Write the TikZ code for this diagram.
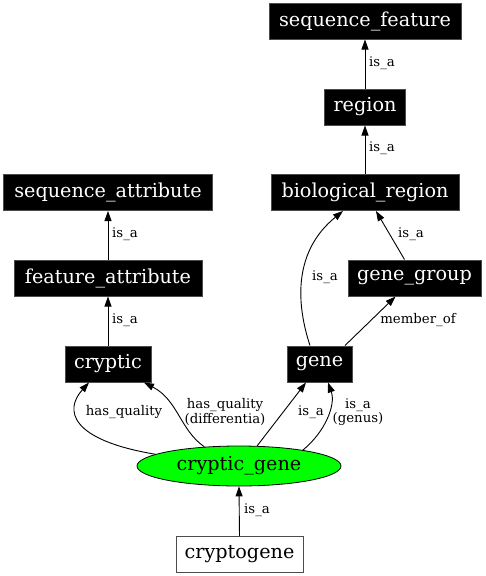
\documentclass[tikz,border=0pt]{standalone}
\usepackage{fontspec}
\setmainfont{DejaVu Serif}
\usetikzlibrary{shapes.geometric,arrows.meta}
\begin{document}
\begin{tikzpicture}[x=1pt,y=-1pt,
  blk/.style={rectangle,fill=black,draw=black!70,line width=1pt,text=white,
    font=\fontsize{19.2}{20}\selectfont,minimum height=36pt,inner xsep=8pt,inner ysep=0pt},
  wht/.style={rectangle,fill=white,draw=black!70,line width=1pt,text=black,
    font=\fontsize{19.2}{20}\selectfont,minimum height=36pt,inner xsep=8pt,inner ysep=0pt},
  ell/.style={ellipse,fill=green,draw=black,line width=0.8pt,
    font=\fontsize{19.2}{20}\selectfont,minimum width=204pt,minimum height=40pt,inner sep=0pt},
  lbl/.style={font=\fontsize{13.3}{14.5}\selectfont,inner sep=0pt,align=center},
  edge/.style={draw=black,line width=0.9pt,-{Triangle[length=10pt,width=7pt]}}]
\useasboundingbox (0,0) rectangle (485,576);
% nodes
\node[blk,minimum width=192pt] (sf) at (365,21) {sequence\_feature};
\node[blk,minimum width=81pt] (reg) at (365,107) {region};
\node[blk,minimum width=188pt] (bio) at (365,192.5) {biological\_region};
\node[blk,minimum width=209pt] (sa) at (108,192.5) {sequence\_attribute};
\node[blk,minimum width=188pt] (fa) at (108,278) {feature\_attribute};
\node[blk,minimum width=133pt] (gg) at (414.5,278) {gene\_group};
\node[blk,minimum width=86pt] (cr) at (108,364) {cryptic};
\node[blk,minimum width=65pt] (gene) at (319.5,364) {gene};
\node[ell] (cg) at (239,466) {cryptic\_gene};
\node[wht,minimum width=127pt] (cgn) at (239.5,554.5) {cryptogene};
% edges
\draw[edge] (reg.north) -- (sf.south);
\draw[edge] (bio.north) -- (reg.south);
\draw[edge] (fa.north) -- (sa.south);
\draw[edge] (cr.north) -- (fa.south);
\draw[edge] ([xshift=-10pt]gg.north) -- ([xshift=11pt]bio.south);
\draw[edge] ([xshift=-9.5pt]gene.north) .. controls (295,300) and (295,250) .. ([xshift=-22pt]bio.south);
\draw[edge] ([xshift=25.5pt]gene.north) -- ([xshift=-19pt]gg.south);
\draw[edge] (cg.172) .. controls (70,440) and (64,410) .. ([xshift=-19pt]cr.south);
\draw[edge] (cg.151) .. controls (180,430) and (178,400) .. ([xshift=36pt]cr.south);
\draw[edge] (cg.48) -- ([xshift=-13.5pt]gene.south);
\draw[edge] (cg.14) .. controls (325,432) and (336,405) .. ([xshift=8.5pt]gene.south);
\draw[edge] (cgn.north) -- (cg.south);
% labels
\node[lbl] (l1) at (382,63) {is\_a};
\node[lbl] (l2) at (382,148) {is\_a};
\node[lbl] (l3) at (125,234) {is\_a};
\node[lbl] (l4) at (125,320) {is\_a};
\node[lbl] (l5) at (411,234) {is\_a};
\node[lbl] (l6) at (325,277) {is\_a};
\node[lbl] (l7) at (418,320) {member\_of};
\node[lbl] (l8) at (124,412) {has\_quality};
\node[lbl] (l9) at (225,412) {has\_quality\\(differentia)};
\node[lbl] (l10) at (311,412) {is\_a};
\node[lbl] (l11) at (358,412) {is\_a\\(genus)};
\node[lbl] (l12) at (257,510) {is\_a};
\end{tikzpicture}
\end{document}
